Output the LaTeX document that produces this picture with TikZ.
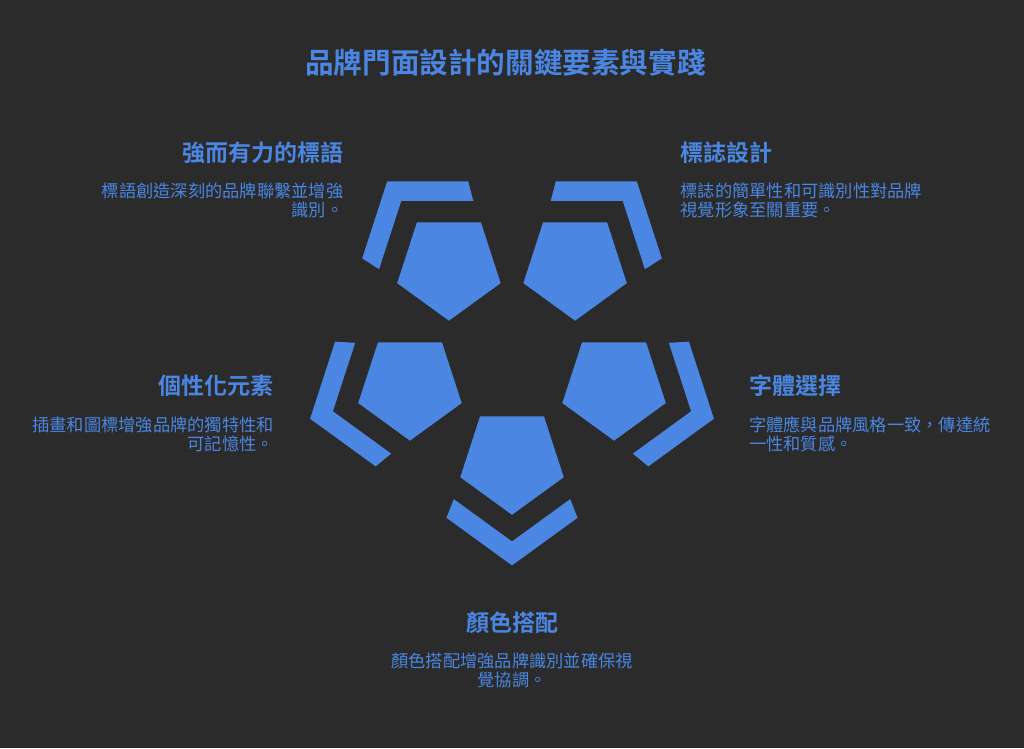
\documentclass[tikz,border=0pt]{standalone}
\usepackage{fontspec}
\setmainfont{Noto Sans CJK TC}[BoldFont={Noto Sans CJK TC Bold}]
\usetikzlibrary{calc}
\definecolor{bg}{HTML}{2B2B2B}
\definecolor{blu}{HTML}{4A86E2}
\tikzset{
  bluefill/.style={fill=blu},
  ttl/.style={text=blu, font=\bfseries\fontsize{28.6}{30}\selectfont, inner sep=0pt},
  hd/.style={text=blu, font=\bfseries\fontsize{23}{25}\selectfont, inner sep=0pt},
  ds/.style={text=blu, font=\fontsize{17.25}{19}\selectfont, inner sep=0pt},
}
\newcommand\mypent[1]{%
  \fill[bluefill] ($(#1)+(90:54.4)$) -- ($(#1)+(162:54.4)$) -- ($(#1)+(234:54.4)$)
    -- ($(#1)+(306:54.4)$) -- ($(#1)+(18:54.4)$) -- cycle;}
\newcommand\mychev[2]{%
  \coordinate (o) at ($(#1)+(#2:105)$);
  \coordinate (oa) at ($(#1)+({#2+72}:105)$);
  \coordinate (ob) at ($(#1)+({#2-72}:105)$);
  \coordinate (i) at ($(#1)+(#2:81)$);
  \coordinate (ia) at ($(#1)+({#2+72}:81)$);
  \coordinate (ib) at ($(#1)+({#2-72}:81)$);
  \fill[bluefill] ($(o)!81pt!(oa)$) -- (o) -- ($(o)!81pt!(ob)$)
    -- ($(i)!72pt!(ib)$) -- (i) -- ($(i)!72pt!(ia)$) -- cycle;}
\begin{document}
\begin{tikzpicture}[x=1pt,y=-1pt]
\fill[bg] (0,0) rectangle (1024,748);
\useasboundingbox (0,0) rectangle (1024,748);
\coordinate (ring) at (512,353.1);
\coordinate (pb) at ($(ring)+(90:107.3)$);
\coordinate (pl) at ($(ring)+(162:107.3)$);
\coordinate (ptl) at ($(ring)+(234:107.3)$);
\coordinate (ptr) at ($(ring)+(306:107.3)$);
\coordinate (pr) at ($(ring)+(18:107.3)$);
\mypent{pb}\mypent{pl}\mypent{ptl}\mypent{ptr}\mypent{pr}
\mychev{pb}{90}\mychev{pl}{162}\mychev{ptl}{234}\mychev{ptr}{306}\mychev{pr}{18}

\node[ttl, anchor=base] (title) at (505.5,73) {品牌門面設計的關鍵要素與實踐};

\node[hd, anchor=base east] (h1) at (343.5,161.2) {強而有力的標語};
\node[ds, anchor=base east] (d1a) at (343.5,197.6) {標語創造深刻的品牌聯繫並增強};
\node[ds, anchor=base east] (d1b) at (343.5,216.3) {識別。};

\node[hd, anchor=base west] (h2) at (680.5,161.2) {標誌設計};
\node[ds, anchor=base west] (d2a) at (680.5,197.6) {標誌的簡單性和可識別性對品牌};
\node[ds, anchor=base west] (d2b) at (680.5,216.3) {視覺形象至關重要。};

\node[hd, anchor=base east] (h3) at (274,394.9) {個性化元素};
\node[ds, anchor=base east] (d3a) at (274,431.5) {插畫和圖標增強品牌的獨特性和};
\node[ds, anchor=base east] (d3b) at (274,450.2) {可記憶性。};

\node[hd, anchor=base west] (h4) at (749,394.9) {字體選擇};
\node[ds, anchor=base west] (d4a) at (749,431.5) {字體應與品牌風格一致，傳達統};
\node[ds, anchor=base west] (d4b) at (749,450.2) {一性和質感。};

\node[hd, anchor=base] (h5) at (512,631.2) {顏色搭配};
\node[ds, anchor=base] (d5a) at (512,667.3) {顏色搭配增強品牌識別並確保視};
\node[ds, anchor=base] (d5b) at (512,686.0) {覺協調。};
\end{tikzpicture}
\end{document}
